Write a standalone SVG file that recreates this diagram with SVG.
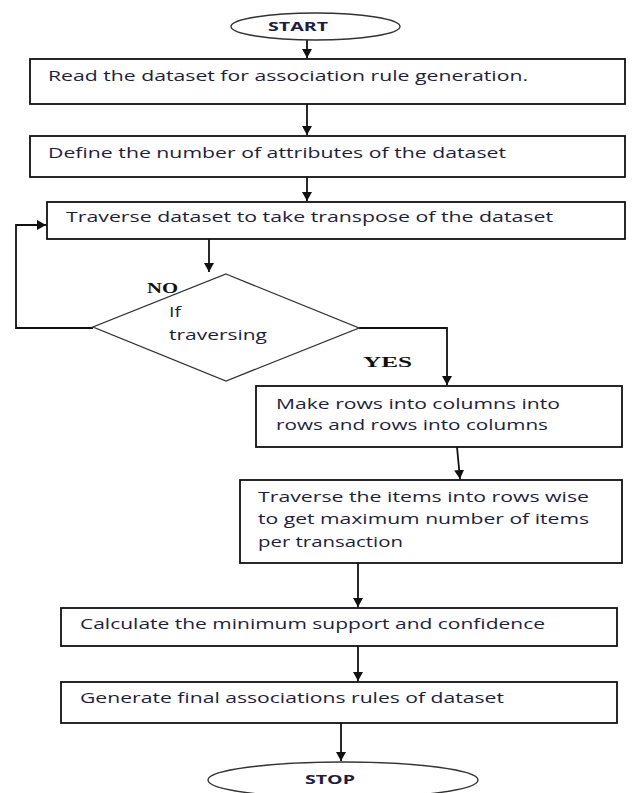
<svg xmlns="http://www.w3.org/2000/svg" width="633" height="793" viewBox="0 0 633 793">
<style>
.box{fill:#fff;stroke:#111;stroke-width:1.8}
.term{fill:#fff;stroke:#333;stroke-width:1.4}
.dia{fill:#fff;stroke:#333;stroke-width:1.3}
.t{font-family:"Open Sans","Liberation Sans",sans-serif;font-size:14px;fill:#1e1e3c}
.tb{font-family:"Open Sans","Liberation Sans",sans-serif;font-size:13px;font-weight:bold;fill:#1e1e3c}
.lbl{font-family:"Liberation Serif",serif;font-size:15px;font-weight:bold;fill:#111}
.c{fill:none;stroke:#111;stroke-width:1.8}
</style>
<defs>
<marker id="ar" markerUnits="userSpaceOnUse" markerWidth="10" markerHeight="10" refX="9" refY="5" orient="auto" viewBox="0 0 10 10">
<path d="M0,0 L9,5 L0,10 Z" fill="#111"/>
</marker>
</defs>
<g id="connectors">
<line class="c" x1="307" y1="40" x2="307" y2="58" marker-end="url(#ar)"/>
<line class="c" x1="307" y1="104" x2="307" y2="135" marker-end="url(#ar)"/>
<line class="c" x1="307" y1="177" x2="307" y2="201" marker-end="url(#ar)"/>
<line class="c" x1="209" y1="239" x2="209" y2="272" marker-end="url(#ar)"/>
<polyline class="c" points="359,328 447,328 447,385" marker-end="url(#ar)"/>
<polyline class="c" points="93,328 16,328 16,225 46,225" marker-end="url(#ar)"/>
<line class="c" x1="457" y1="447" x2="460" y2="479" marker-end="url(#ar)"/>
<line class="c" x1="358" y1="563" x2="358" y2="607" marker-end="url(#ar)"/>
<line class="c" x1="358" y1="646" x2="358" y2="681" marker-end="url(#ar)"/>
<line class="c" x1="341" y1="723" x2="341" y2="761" marker-end="url(#ar)"/>
</g>
<g id="start">
<ellipse class="term" cx="315.5" cy="26.5" rx="84.5" ry="13.5"/>
<text class="tb" x="268" y="31" textLength="60" lengthAdjust="spacingAndGlyphs">START</text>
</g>
<g id="read">
<rect class="box" x="30" y="59" width="595" height="45"/>
<text class="t" x="48" y="81" textLength="480" lengthAdjust="spacingAndGlyphs">Read the dataset for association rule generation.</text>
</g>
<g id="define">
<rect class="box" x="30" y="136" width="595" height="41"/>
<text class="t" x="48" y="158" textLength="458" lengthAdjust="spacingAndGlyphs">Define the number of attributes of the dataset</text>
</g>
<g id="traverse">
<rect class="box" x="47" y="202" width="578" height="37"/>
<text class="t" x="66" y="222" textLength="487" lengthAdjust="spacingAndGlyphs">Traverse dataset to take transpose of the dataset</text>
</g>
<g id="decision">
<polygon class="dia" points="226,274 359,328 226,381 93,327"/>
<text class="t" x="169" y="317" textLength="12" lengthAdjust="spacingAndGlyphs">If</text>
<text class="t" x="169" y="340" textLength="98" lengthAdjust="spacingAndGlyphs">traversing</text>
<text class="lbl" x="147" y="293" textLength="31" lengthAdjust="spacingAndGlyphs">NO</text>
<text class="lbl" x="363" y="367" textLength="49" lengthAdjust="spacingAndGlyphs">YES</text>
</g>
<g id="rows">
<rect class="box" x="256" y="386" width="366" height="61"/>
<text class="t" x="276" y="409" textLength="284" lengthAdjust="spacingAndGlyphs">Make rows into columns into</text>
<text class="t" x="276" y="430" textLength="272" lengthAdjust="spacingAndGlyphs">rows and rows into columns</text>
</g>
<g id="items">
<rect class="box" x="240" y="480" width="382" height="83"/>
<text class="t" x="258" y="502" textLength="331" lengthAdjust="spacingAndGlyphs">Traverse the items into rows wise</text>
<text class="t" x="258" y="524" textLength="331" lengthAdjust="spacingAndGlyphs">to get maximum number of items</text>
<text class="t" x="258" y="547" textLength="145" lengthAdjust="spacingAndGlyphs">per transaction</text>
</g>
<g id="calc">
<rect class="box" x="61" y="608" width="556" height="38"/>
<text class="t" x="80" y="629" textLength="465" lengthAdjust="spacingAndGlyphs">Calculate the minimum support and confidence</text>
</g>
<g id="generate">
<rect class="box" x="61" y="682" width="556" height="41"/>
<text class="t" x="80" y="703" textLength="424" lengthAdjust="spacingAndGlyphs">Generate final associations rules of dataset</text>
</g>
<g id="stop">
<ellipse class="term" cx="343" cy="780" rx="135" ry="18"/>
<text class="tb" x="305" y="784" textLength="50" lengthAdjust="spacingAndGlyphs">STOP</text>
</g>
</svg>
